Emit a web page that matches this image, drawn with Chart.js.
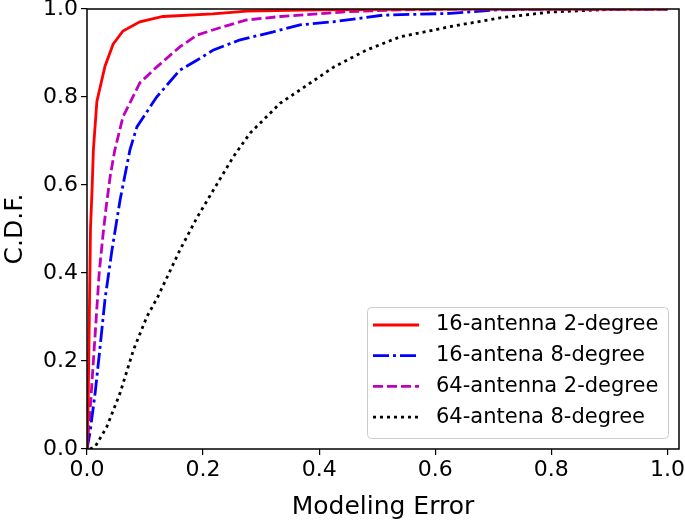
<!doctype html>
<html lang="en">
  <head>
    <meta charset="utf-8">
    <title>CDF of Modeling Error</title>
    <script src="https://cdn.jsdelivr.net/npm/chart.js"></script>
    <style>
      body { margin: 0; background: #fff; }
      #wrap { position: relative; width: 685px; height: 522px; }
    </style>
  </head>
  <body>
    <div id="wrap">
      <canvas id="cdfChart" width="685" height="522"></canvas>
    </div>
  </body>
</html>

<script>
    // values (x = modeling error, y = CDF)
    var seriesNames = ["16-antenna 2-degree", "16-antena 8-degree", "64-antenna 2-degree", "64-antena 8-degree"];
    var tickValues = [0, 0.2, 0.4, 0.6, 0.8, 1.0];

    var red2X = [0, 0.002, 0.004, 0.006, 0.009, 0.011, 0.017, 0.031, 0.045, 0.062, 0.091, 0.131, 0.217, 0.275, 0.4, 0.6, 1.0];
    var red2Y = [0, 0.1, 0.3, 0.5, 0.6, 0.68, 0.79, 0.87, 0.92, 0.95, 0.971, 0.983, 0.989, 0.995, 0.998, 1.0, 1.0];

    var blue8X = [0, 0.005, 0.014, 0.022, 0.031, 0.043, 0.057, 0.074, 0.086, 0.12, 0.16, 0.19, 0.218, 0.264, 0.321, 0.367, 0.425, 0.51, 0.626, 0.707, 0.8, 1.0];
    var blue8Y = [0, 0.036, 0.127, 0.225, 0.34, 0.452, 0.566, 0.68, 0.732, 0.8, 0.861, 0.884, 0.907, 0.93, 0.948, 0.964, 0.971, 0.986, 0.99, 0.998, 1.0, 1.0];

    var mag2X = [0, 0.003, 0.007, 0.011, 0.016, 0.021, 0.027, 0.033, 0.04, 0.048, 0.062, 0.091, 0.12, 0.16, 0.19, 0.235, 0.275, 0.333, 0.367, 0.453, 0.54, 0.65, 1.0];
    var mag2Y = [0, 0.05, 0.12, 0.2, 0.3, 0.4, 0.48, 0.55, 0.62, 0.68, 0.755, 0.832, 0.868, 0.914, 0.941, 0.96, 0.975, 0.983, 0.986, 0.994, 0.998, 1.0, 1.0];

    var blk8X = [0.005, 0.014, 0.034, 0.057, 0.08, 0.103, 0.122, 0.16, 0.19, 0.218, 0.252, 0.281, 0.333, 0.367, 0.425, 0.482, 0.54, 0.597, 0.626, 0.712, 0.798, 0.9, 0.95, 1.0];
    var blk8Y = [0, 0.005, 0.05, 0.127, 0.225, 0.3, 0.346, 0.452, 0.527, 0.589, 0.664, 0.718, 0.786, 0.816, 0.868, 0.907, 0.937, 0.952, 0.96, 0.98, 0.993, 0.999, 1.0, 1.0];

    function toPoints(xs, ys) {
      return xs.map((x, i) => ({x: x, y: ys[i]}));
    }

    var lineStyles = [
      {color: "#ff0000", dash: []},
      {color: "#0000ff", dash: [16, 4, 3, 4]},
      {color: "#bf00bf", dash: [10, 4]},
      {color: "#000000", dash: [3, 4]},
    ];
    var allData = [toPoints(red2X, red2Y), toPoints(blue8X, blue8Y), toPoints(mag2X, mag2Y), toPoints(blk8X, blk8Y)];

    var FONT = "'DejaVu Sans', sans-serif";

    // frame around plot + legend box in lower right
    var framePlugin = {
      id: "frameAndLegend",
      afterDraw(chart) {
        const ctx = chart.ctx;
        const a = chart.chartArea;
        ctx.save();
        ctx.strokeStyle = "#000";
        ctx.lineWidth = 1.5;
        ctx.strokeRect(a.left, a.top, a.right - a.left, a.bottom - a.top);

        // legend
        const bx = 367, by = 307, bw = 301, bh = 131;
        ctx.beginPath();
        ctx.lineWidth = 1;
        ctx.strokeStyle = "#cccccc";
        ctx.fillStyle = "rgba(255,255,255,0.8)";
        ctx.roundRect(bx + 0.5, by + 0.5, bw, bh, 4);
        ctx.fill();
        ctx.stroke();
        ctx.font = "21px " + FONT;
        ctx.textBaseline = "middle";
        for (let i = 0; i < seriesNames.length; i++) {
          const y = by + 18 + i * 30.7;
          ctx.beginPath();
          ctx.strokeStyle = lineStyles[i].color;
          ctx.lineWidth = 2.8;
          ctx.setLineDash(lineStyles[i].dash);
          ctx.moveTo(373, y);
          ctx.lineTo(419, y);
          ctx.stroke();
          ctx.setLineDash([]);
          ctx.fillStyle = "#000";
          ctx.fillText(seriesNames[i], 436, y);
        }
        ctx.restore();
      }
    };

    const ctx = document.getElementById("cdfChart").getContext("2d");
    new Chart(ctx, {
      type: "scatter",
      data: {
        datasets: allData.map((pts, i) => ({
          label: seriesNames[i],
          data: pts,
          showLine: true,
          borderColor: lineStyles[i].color,
          borderDash: lineStyles[i].dash,
          borderWidth: 2.8,
          pointRadius: 0,
          tension: 0,
          fill: false,
        })),
      },
      options: {
        responsive: false,
        animation: false,
        layout: { padding: { top: 9, right: 6, left: 0, bottom: 0 } },
        plugins: { legend: { display: false }, tooltip: { enabled: false } },
        scales: {
          x: {
            type: "linear",
            min: 0,
            max: 1.02,
            afterBuildTicks: (axis) => { axis.ticks = tickValues.map(v => ({value: v})); },
            afterFit: (axis) => {
              axis.height = 73;
              axis.paddingLeft = 0;
              axis.paddingRight = 0;
            },
            ticks: {
              color: "#000",
              font: { family: FONT, size: 22 },
              padding: 2,
              callback: (v) => v.toFixed(1),
            },
            grid: { drawOnChartArea: false, tickLength: 6, color: "#000", lineWidth: 1.2 },
            border: { display: false },
            title: {
              display: true,
              text: "Modeling Error",
              color: "#000",
              font: { family: FONT, size: 25 },
              padding: { top: 8, bottom: 0 },
            },
          },
          y: {
            min: 0,
            max: 1,
            afterBuildTicks: (axis) => { axis.ticks = tickValues.map(v => ({value: v})); },
            afterFit: (axis) => {
              axis.width = 87;
              axis.paddingTop = 0;
              axis.paddingBottom = 0;
            },
            ticks: {
              color: "#000",
              font: { family: FONT, size: 22 },
              padding: 3,
              callback: (v) => v.toFixed(1),
            },
            grid: { drawOnChartArea: false, tickLength: 6, color: "#000", lineWidth: 1.2 },
            border: { display: false },
            title: {
              display: true,
              text: "C.D.F.",
              color: "#000",
              font: { family: FONT, size: 25 },
              padding: { top: 0, bottom: 4 },
            },
          },
        },
      },
      plugins: [framePlugin],
    });
  </script>
